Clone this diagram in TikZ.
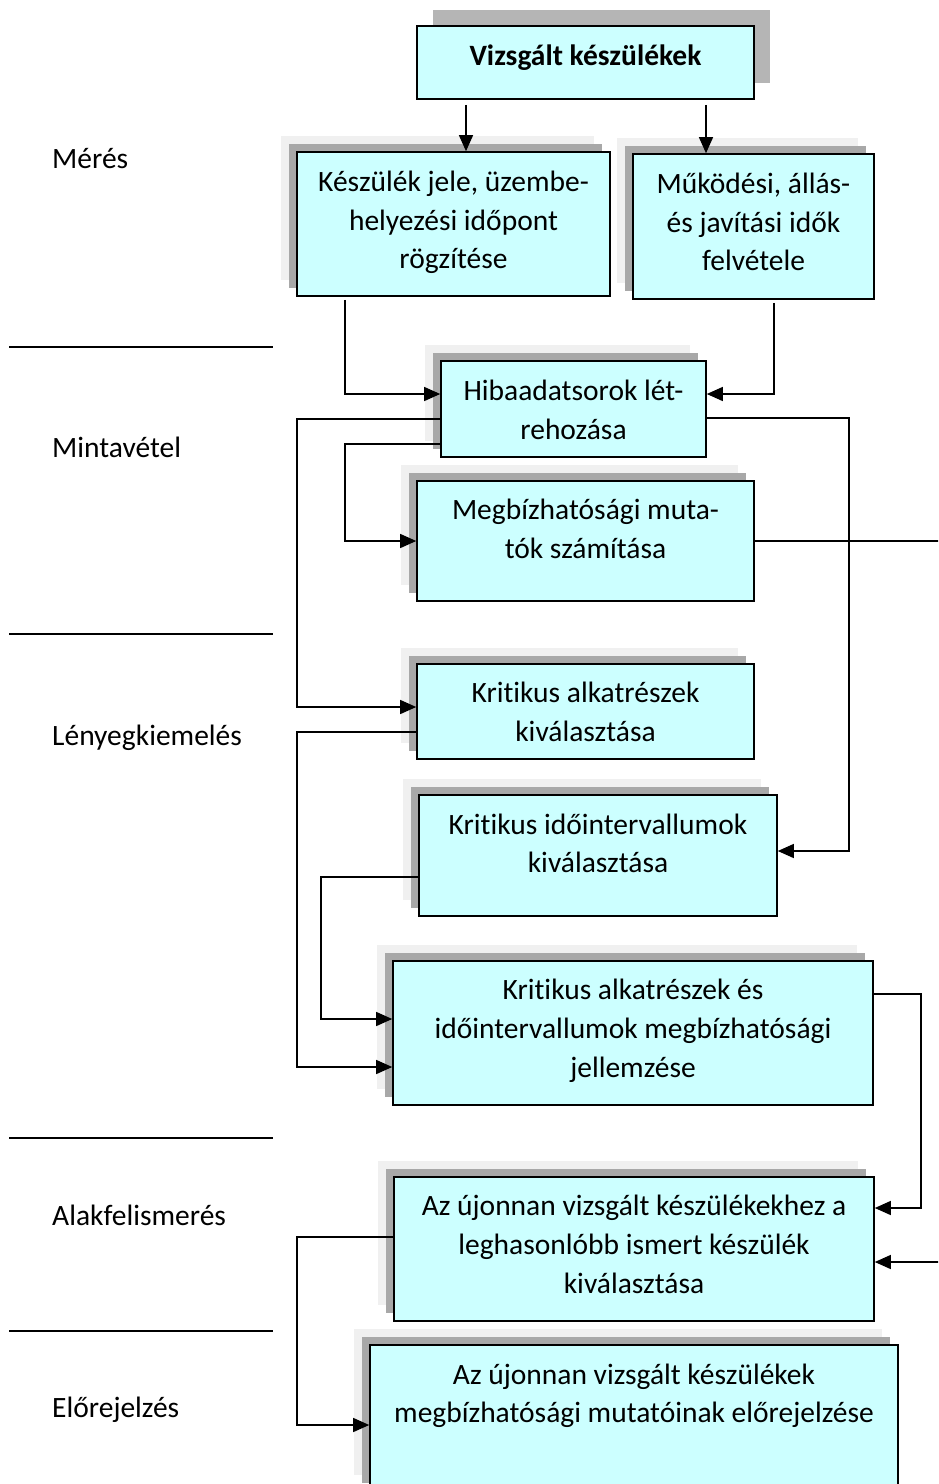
\documentclass[tikz,border=0pt]{standalone}
\usepackage{fontspec}
\setmainfont{Carlito}[Ligatures=NoCommon]
\usetikzlibrary{arrows.meta,shadows}
\definecolor{boxcyan}{HTML}{CCFFFF}
\definecolor{shdark}{HTML}{A8A8A8}
\definecolor{shlight}{HTML}{F0F0F0}
\definecolor{shtop}{HTML}{B5B5B5}
\begin{document}
\begin{tikzpicture}[x=1pt,y=-1pt,
	blk/.style={draw=black,line width=1.6pt,fill=boxcyan,inner sep=0pt,
		general shadow={fill=shlight,shadow xshift=-16pt,shadow yshift=16pt},
		general shadow={fill=shdark,shadow xshift=-8pt,shadow yshift=8pt}},
	topblk/.style={draw=black,line width=1.6pt,fill=boxcyan,inner sep=0pt,
		general shadow={fill=shtop,shadow xshift=16pt,shadow yshift=16pt}},
	txt/.style={anchor=base,align=center,inner sep=0pt,font=\fontsize{29.5}{38.7}\selectfont},
	lbl/.style={anchor=base west,inner sep=0pt,font=\fontsize{29.5}{38.7}\selectfont},
	arr/.style={line width=1.3pt,-{Triangle[length=16pt,width=14pt]}}]
	\useasboundingbox (0,0) rectangle (938,1484);
	\clip (0,0) rectangle (938,1484);
	% phases on the left
	\node[lbl] (meres) at (52,168) {Mérés};
	\node[lbl] (minta) at (52,457) {Mintavétel};
	\node[lbl] (lenyeg) at (52,745) {Lényegkiemelés};
	\node[lbl] (alak) at (52,1225) {Alakfelismerés};
	\node[lbl] (elore) at (52,1417) {Előrejelzés};
	\draw[line width=1.3pt] (9,347) -- (273,347);
	\draw[line width=1.3pt] (9,634) -- (273,634);
	\draw[line width=1.3pt] (9,1138) -- (273,1138);
	\draw[line width=1.3pt] (9,1331) -- (273,1331);
	% boxes
	\node[topblk,minimum width=337pt,minimum height=73pt] (b1) at (585.5,62.5) {};
	\node[blk,minimum width=313pt,minimum height=144pt] (b2) at (453.5,224) {};
	\node[blk,minimum width=241pt,minimum height=145pt] (b3) at (753.5,226.5) {};
	\node[blk,minimum width=265pt,minimum height=96pt] (b4) at (573.5,409) {};
	\node[blk,minimum width=337pt,minimum height=120pt] (b5) at (585.5,541) {};
	\node[blk,minimum width=337pt,minimum height=95pt] (b6) at (585.5,711.5) {};
	\node[blk,minimum width=358pt,minimum height=121pt] (b7) at (598,855.5) {};
	\node[blk,minimum width=480pt,minimum height=144pt] (b8) at (633,1033) {};
	\node[blk,minimum width=480pt,minimum height=144pt] (b9) at (634,1249) {};
	\node[blk,minimum width=528pt,minimum height=146pt] (b10) at (634,1418) {};
	% texts (base = last line)
	\node[txt,font=\fontsize{29.5}{38.7}\selectfont\bfseries] (t1) at ([yshift=-40pt]b1.north) {Vizsgált készülékek};
	\node[txt] (t2) at ([yshift=-117.5pt]b2.north) {Készülék jele, üzembe-\\helyezési időpont\\rögzítése};
	\node[txt] (t3) at ([yshift=-117.5pt]b3.north) {Működési, állás-\\és javítási idők\\felvétele};
	\node[txt] (t4) at ([yshift=-79pt]b4.north) {Hibaadatsorok lét-\\rehozása};
	\node[txt] (t5) at ([yshift=-78pt]b5.north) {Megbízhatósági muta-\\tók számítása};
	\node[txt] (t6) at ([yshift=-78pt]b6.north) {Kritikus alkatrészek\\kiválasztása};
	\node[txt] (t7) at ([yshift=-78.5pt]b7.north) {Kritikus időintervallumok\\kiválasztása};
	\node[txt] (t8) at ([yshift=-117pt]b8.north) {Kritikus alkatrészek és\\időintervallumok megbízhatósági\\jellemzése};
	\node[txt] (t9) at ([yshift=-117pt]b9.north) {Az újonnan vizsgált készülékekhez a\\leghasonlóbb ismert készülék\\kiválasztása};
	\node[txt] (t10) at ([yshift=-78.5pt]b10.north) {Az újonnan vizsgált készülékek\\megbízhatósági mutatóinak előrejelzése};
	% rails and entry points
	\coordinate (railA) at (297,0);
	\coordinate (railB) at (345,0);
	\coordinate (railC) at (321,0);
	\coordinate (railT) at (774,0);
	\coordinate (railR) at (849,0);
	\coordinate (railS) at (921,0);
	\coordinate (railE) at (950,0);
	\coordinate (in6) at ([yshift=4.5pt]b6.west);
	\coordinate (in7) at ([yshift=4.5pt]b7.east);
	\coordinate (in8a) at ([yshift=14pt]b8.west);
	\coordinate (in8b) at ([yshift=-34pt]b8.west);
	\coordinate (in9a) at ([yshift=41pt]b9.east);
	\coordinate (in9b) at ([yshift=-13pt]b9.east);
	\coordinate (in10) at ([yshift=-7pt]b10.west);
	% connectors
	\draw[arr] ([xshift=-119.5pt,yshift=-5pt]b1.south) coordinate (o1) -- (o1 |- b2.north);
	\draw[arr] ([xshift=120.5pt,yshift=-5pt]b1.south) coordinate (o2) -- (o2 |- b3.north);
	\draw[arr] ([yshift=-3pt]b2.south -| railB) |- ([yshift=15pt]b4.west);
	\draw[arr] ([yshift=-3pt]b3.south -| railT) |- ([yshift=15pt]b4.east);
	\draw[arr] ([yshift=-10pt]b4.west) -| (in6 -| railA) -- (in6);
	\draw[arr] ([yshift=-35pt]b4.west) -| (b5.west -| railB) -- (b5.west);
	\draw[arr] ([yshift=-9pt]b4.east) -| (in7 -| railR) -- (in7);
	\draw[arr] (b5.east) -- (b5.east -| railE) -- (in9b -| railE) -- (in9b);
	\draw[arr] ([yshift=-20.5pt]b6.west) -| (in8b -| railA) -- (in8b);
	\draw[arr] ([yshift=-21.5pt]b7.west) -| (in8a -| railC) -- (in8a);
	\draw[arr] ([yshift=39pt]b8.east) -| (in9a -| railS) -- (in9a);
	\draw[arr] ([yshift=12pt]b9.west) -| (in10 -| railA) -- (in10);
\end{tikzpicture}
\end{document}
